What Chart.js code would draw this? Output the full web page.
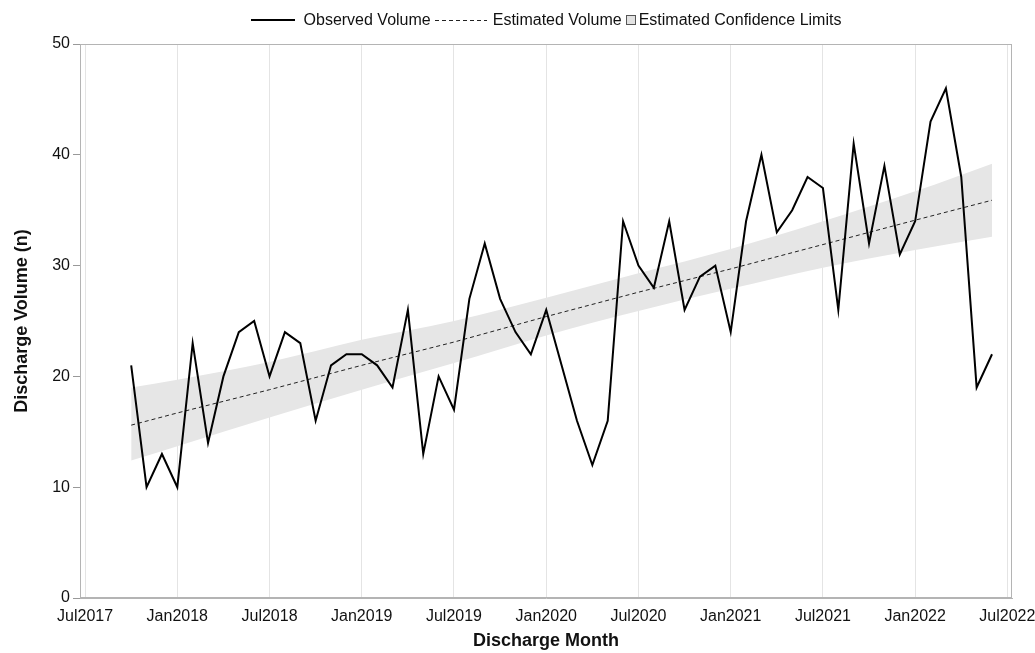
<!DOCTYPE html>
<html>
<head>
<meta charset="utf-8">
<script src="https://cdn.jsdelivr.net/npm/chart.js@4.4.1/dist/chart.umd.min.js"></script>
<style>
  body { margin: 0; background: #fff; font-family: "Liberation Sans", Arial, sans-serif; }
  #wrap { position: relative; width: 1035px; height: 653px; }
  #legend { position: absolute; top: 11px; left: 80px; width: 932px; display: flex; justify-content: center; align-items: center; font-size: 16px; line-height: 18px; color: #111; }
  #legend .item { display: flex; align-items: center; margin: 0 2px; }
  #legend .solid { width: 44px; height: 2px; background: #000; margin-right: 9px; }
  #legend .dash { width: 52px; height: 1px; background: repeating-linear-gradient(90deg, #222 0 4px, transparent 4px 7px); margin-right: 6px; }
  #legend .box { width: 8px; height: 8px; background: #e2e2e2; border: 1px solid #555; margin-right: 3px; }
</style>
</head>
<body>
<div id="wrap">
  <canvas id="dischargeChart" width="1035" height="653"></canvas>
  <div id="legend">
    <div class="item"><span class="solid"></span>Observed Volume</div>
    <div class="item"><span class="dash"></span>Estimated Volume</div>
    <div class="item"><span class="box"></span>Estimated Confidence Limits</div>
  </div>
</div>
<script>
// monthly observed discharge volume
const observedMonths = [
    "2017-10", "2017-11", "2017-12", "2018-01", "2018-02", "2018-03", "2018-04", "2018-05", "2018-06", "2018-07",
    "2018-08", "2018-09", "2018-10", "2018-11", "2018-12", "2019-01", "2019-02", "2019-03", "2019-04", "2019-05",
    "2019-06", "2019-07", "2019-08", "2019-09", "2019-10", "2019-11", "2019-12", "2020-01", "2020-02", "2020-03",
    "2020-04", "2020-05", "2020-06", "2020-07", "2020-08", "2020-09", "2020-10", "2020-11", "2020-12", "2021-01",
    "2021-02", "2021-03", "2021-04", "2021-05", "2021-06", "2021-07", "2021-08", "2021-09", "2021-10", "2021-11",
    "2021-12", "2022-01", "2022-02", "2022-03", "2022-04", "2022-05", "2022-06"
];
const observedVolume = [
    21, 10, 13, 10, 23, 14, 20, 24, 25, 20,
    24, 23, 16, 21, 22, 22, 21, 19, 26, 13,
    20, 17, 27, 32, 27, 24, 22, 26, 21, 16,
    12, 16, 34, 30, 28, 34, 26, 29, 30, 24,
    34, 40, 33, 35, 38, 37, 26, 41, 32, 39,
    31, 34, 43, 46, 38, 19, 22
];

// fitted trend and its confidence band, read at these months
const estimateMonths = ["2017-10", "2018-01", "2018-07", "2019-01", "2019-07", "2020-01", "2020-07", "2021-01", "2021-07", "2022-01", "2022-06"];
const estimatedVolume = [15.6, 16.7, 18.8, 21.0, 23.1, 25.4, 27.6, 29.7, 31.9, 34.1, 35.9];
const lowerLimit = [12.4, 13.7, 16.3, 18.8, 21.2, 23.7, 25.9, 27.9, 29.8, 31.4, 32.6];
const upperLimit = [19.0, 19.7, 21.3, 23.3, 25.0, 27.1, 29.3, 31.5, 34.0, 36.7, 39.2];

const tickLabels = ["Jul2017", "Jan2018", "Jul2018", "Jan2019", "Jul2019", "Jan2020", "Jul2020", "Jan2021", "Jul2021", "Jan2022", "Jul2022"];

// months counted from Jul 2017
function monthIndex(ym) {
    const parts = ym.split("-");
    return (parseInt(parts[0]) - 2017) * 12 + (parseInt(parts[1]) - 7);
}
const monthNames = ["Jan", "Feb", "Mar", "Apr", "May", "Jun", "Jul", "Aug", "Sep", "Oct", "Nov", "Dec"];
function labelIndex(label) {
    const m = monthNames.indexOf(label.slice(0, 3)) + 1;
    return monthIndex(label.slice(3) + "-" + m);
}

function toPoints(months, values) {
    return months.map((m, i) => ({ x: monthIndex(m), y: values[i] }));
}

const font = "'Liberation Sans', Arial, sans-serif";

const plotBorder = {
    id: "plotBorder",
    afterDraw(chart) {
        const a = chart.chartArea;
        const ctx = chart.ctx;
        ctx.save();
        ctx.strokeStyle = "#b4b4b4";
        ctx.lineWidth = 1;
        ctx.strokeRect(a.left + 0.5, a.top + 0.5, a.right - a.left - 1, a.bottom - a.top - 1);
        ctx.restore();
    }
};

const ctx = document.getElementById("dischargeChart").getContext("2d");
new Chart(ctx, {
    type: "line",
    data: {
        datasets: [
            {
                label: "Observed Volume",
                data: toPoints(observedMonths, observedVolume),
                borderColor: "#000",
                borderWidth: 2,
                pointRadius: 0,
                fill: false,
                tension: 0,
                order: 1,
            },
            {
                label: "Estimated Volume",
                data: toPoints(estimateMonths, estimatedVolume),
                borderColor: "#222",
                borderWidth: 1,
                borderDash: [4, 3],
                pointRadius: 0,
                fill: false,
                order: 2,
            },
            {
                label: "Upper",
                data: toPoints(estimateMonths, upperLimit),
                borderWidth: 0,
                borderColor: "rgba(0,0,0,0)",
                backgroundColor: "#e6e6e6",
                pointRadius: 0,
                fill: "+1",
                cubicInterpolationMode: "monotone",
                order: 3,
            },
            {
                label: "Lower",
                data: toPoints(estimateMonths, lowerLimit),
                borderWidth: 0,
                borderColor: "rgba(0,0,0,0)",
                pointRadius: 0,
                fill: false,
                cubicInterpolationMode: "monotone",
                order: 4,
            },
        ],
    },
    options: {
        responsive: false,
        animation: false,
        layout: { padding: { top: 44, right: 23, left: 0, bottom: 0 } },
        plugins: {
            legend: { display: false },
            tooltip: { enabled: false },
        },
        scales: {
            x: {
                type: "linear",
                min: -0.33,
                max: 60.3,
                afterBuildTicks: (scale) => {
                    scale.ticks = tickLabels.map(l => ({ value: labelIndex(l) }));
                },
                afterFit: (scale) => {
                    scale.height = 55;
                    scale.paddingLeft = 0;
                    scale.paddingRight = 0;
                },
                ticks: {
                    autoSkip: false,
                    maxRotation: 0,
                    padding: 9,
                    color: "#111",
                    font: { family: font, size: 16 },
                    callback: (v) => tickLabels.find(l => labelIndex(l) === v) || "",
                },
                grid: { color: "#e4e4e4", drawTicks: false },
                border: { color: "#b4b4b4" },
                title: {
                    display: true,
                    text: "Discharge Month",
                    color: "#111",
                    font: { family: font, size: 18, weight: "bold" },
                    padding: { top: 6, bottom: 1 },
                },
            },
            y: {
                min: 0,
                max: 50,
                afterFit: (scale) => { scale.width = 80; },
                ticks: {
                    stepSize: 10,
                    padding: 3,
                    color: "#111",
                    font: { family: font, size: 16 },
                },
                grid: { drawOnChartArea: false, drawTicks: true, tickLength: 7, color: "#999" },
                border: { color: "#b4b4b4" },
                title: {
                    display: true,
                    text: "Discharge Volume (n)",
                    color: "#111",
                    font: { family: font, size: 18, weight: "bold" },
                    padding: { top: 11, bottom: 0 },
                },
            },
        },
    },
    plugins: [plotBorder],
});
</script>
</body>
</html>
